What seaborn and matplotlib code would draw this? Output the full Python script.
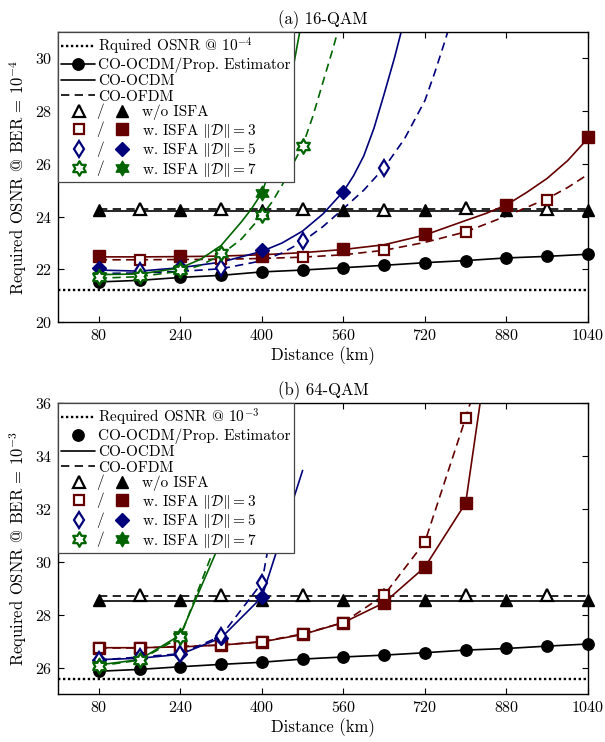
import numpy as np
import matplotlib
matplotlib.use("Agg")
import matplotlib.pyplot as plt
import seaborn as sns
from matplotlib.lines import Line2D
from matplotlib.path import Path
from matplotlib.text import Text
from matplotlib.legend_handler import HandlerBase

# ---------------- data : (a) 16-QAM ----------------
dist = [80, 160, 240, 320, 400, 480, 560, 640, 720, 800, 880, 960, 1040]
x_ticks = [80, 240, 400, 560, 720, 880, 1040]
x_odd = [80, 240, 400, 560, 720, 880, 1040]
x_even = [160, 320, 480, 640, 800, 960]

est16 = [21.52, 21.58, 21.69, 21.77, 21.90, 21.97, 22.06, 22.15, 22.25, 22.33, 22.43, 22.49, 22.57]
req16 = 21.23

tri16_ocdm = [24.24, 24.24, 24.24, 24.23, 24.24, 24.24, 24.24]
tri16_ofdm = [24.30, 24.29, 24.28, 24.24, 24.31, 24.28]
tri16_line_x = [80, 1040]
tri16_ocdm_line = [24.21, 24.21]
tri16_ofdm_line = [24.27, 24.27]

sq16_ocdm = [22.50, 22.50, 22.52, 22.78, 23.32, 24.45, 27.00]
sq16_ofdm = [22.35, 22.38, 22.46, 22.74, 23.43, 24.63]
sq16_sol_x = [80, 160, 240, 320, 400, 480, 560, 640, 720, 800, 840, 880, 920, 960, 1000, 1040]
sq16_sol_y = [22.47, 22.47, 22.48, 22.50, 22.55, 22.63, 22.75, 22.93, 23.30, 23.85, 24.12, 24.44, 24.92, 25.45, 26.12, 26.97]
sq16_das_x = [80, 160, 240, 320, 400, 480, 560, 640, 720, 800, 880, 960, 1000, 1040]
sq16_das_y = [22.36, 22.36, 22.37, 22.38, 22.41, 22.46, 22.55, 22.72, 23.02, 23.42, 24.02, 24.68, 25.10, 25.60]

dia16_ocdm_x = [80, 240, 400, 560]
dia16_ocdm = [22.04, 22.07, 22.72, 24.94]
dia16_ofdm_x = [160, 320, 480, 640]
dia16_ofdm = [21.95, 22.05, 23.09, 25.85]
dia16_sol_x = [80, 160, 240, 320, 400, 440, 480, 520, 560, 580, 600, 620, 640, 660, 680]
dia16_sol_y = [21.97, 21.93, 22.06, 22.27, 22.68, 23.00, 23.45, 24.10, 24.95, 25.55, 26.30, 27.35, 28.65, 30.00, 31.50]
dia16_das_x = [80, 160, 240, 320, 400, 440, 480, 520, 560, 600, 640, 680, 720, 740, 760, 780]
dia16_das_y = [21.84, 21.86, 21.92, 22.02, 22.32, 22.62, 23.05, 23.62, 24.30, 25.00, 25.85, 26.95, 28.40, 29.50, 30.70, 32.00]

star16_ocdm_x = [80, 240, 400]
star16_ocdm = [21.74, 22.00, 24.90]
star16_ofdm_x = [80, 160, 240, 320, 400, 480]
star16_ofdm = [21.71, 21.76, 21.97, 22.60, 24.05, 26.68]
star16_sol_x = [80, 160, 240, 280, 320, 360, 380, 400, 420, 440, 460, 480]
star16_sol_y = [21.80, 21.82, 22.05, 22.38, 22.90, 23.80, 24.30, 24.90, 26.00, 27.60, 29.50, 31.60]
star16_das_x = [80, 160, 240, 280, 320, 360, 400, 420, 440, 460, 480, 500, 520, 540, 560]
star16_das_y = [21.66, 21.72, 21.93, 22.15, 22.55, 23.15, 24.04, 24.55, 25.20, 25.95, 26.68, 27.80, 29.10, 30.40, 31.80]

# ---------------- data : (b) 64-QAM ----------------
est64 = [25.86, 25.93, 26.03, 26.12, 26.20, 26.32, 26.40, 26.47, 26.56, 26.66, 26.72, 26.81, 26.89]
req64 = 25.57

tri64_ocdm = [28.55, 28.55, 28.55, 28.55, 28.55, 28.55, 28.55]
tri64_ofdm = [28.75, 28.75, 28.75, 28.75, 28.75, 28.75]
tri64_ocdm_line = [28.50, 28.50]
tri64_ofdm_line = [28.71, 28.71]

sq64_x = [80, 160, 240, 320, 400, 480, 560, 640, 720, 800, 880]
sq64_ocdm = [26.75, 26.75, 26.78, 26.85, 26.97, 27.25, 27.70, 28.45, 29.80, 32.22, 42.90]
sq64_ofdm = [26.74, 26.74, 26.80, 26.85, 26.98, 27.27, 27.70, 28.74, 30.75, 35.44, 40.40]
sq64_nmark = 10

dia64_x = [80, 160, 240, 320, 400, 480]
dia64_ocdm = [26.30, 26.35, 26.50, 27.12, 28.66, 33.45]
dia64_ofdm = [26.28, 26.40, 26.52, 27.19, 29.20, 37.80]
dia64_nmark = 5

star64_x = [80, 160, 240, 320]
star64_ocdm = [26.10, 26.30, 27.23, 30.80]
star64_ofdm = [26.06, 26.28, 27.15, 31.20]
star64_nmark = 3

# ---------------- style ----------------
MAROON = "#650000"
NAVY = "#00007a"
GREEN = "#006400"
LW = 1.2
DASH = (0, (5, 3.2))
DOT = (0, (1, 1.1))

sns.set_theme(style="ticks")
plt.rcParams.update({
    "font.family": ["cmr10", "DejaVu Serif"],
    "mathtext.fontset": "cm",
    "axes.formatter.use_mathtext": True,
    "axes.unicode_minus": False,
    "font.size": 11.5,
    "axes.edgecolor": "black",
    "axes.linewidth": 1.0,
    "text.color": "black",
    "axes.labelcolor": "black",
    "xtick.color": "black",
    "ytick.color": "black",
    "xtick.direction": "in",
    "ytick.direction": "in",
    "xtick.top": True,
    "ytick.right": True,
    "xtick.major.size": 4.3,
    "ytick.major.size": 4.3,
    "xtick.major.width": 0.8,
    "ytick.major.width": 0.8,
    "xtick.major.pad": 4.5,
    "ytick.major.pad": 4.0,
    "xtick.labelsize": 11.5,
    "ytick.labelsize": 11.5,
})

# hexagram marker shape
_ang = np.deg2rad(90 + 30 * np.arange(12))
_rad = np.where(np.arange(12) % 2 == 0, 1.0, 1 / np.sqrt(3))
_v = np.c_[_rad * np.cos(_ang), _rad * np.sin(_ang)]
HEX = Path(np.vstack([_v, _v[:1]]), [Path.MOVETO] + [Path.LINETO] * 11 + [Path.CLOSEPOLY])

MK = {
    "tri": dict(hollow=("^", 8.4), filled=("^", 8.6)),
    "sq": dict(hollow=("s", 7.0), filled=("s", 9.0)),
    "dia": dict(hollow=("d", 7.8), filled=("D", 7.0)),
    "star": dict(hollow=(HEX, 10.5), filled=(HEX, 10.5)),
}


def line(ax, x, y, color, ls="-"):
    sns.lineplot(x=x, y=y, ax=ax, color=color, linestyle=ls, linewidth=LW,
                 estimator=None, sort=False, legend=False, zorder=2)


def marks(ax, x, y, color, kind, hollow):
    m, ms = MK[kind]["hollow" if hollow else "filled"]
    sns.lineplot(x=x, y=y, ax=ax, color=color, linestyle="", marker=m,
                 markersize=ms, markerfacecolor="white" if hollow else color,
                 markeredgecolor=color, markeredgewidth=1.6 if hollow else 1.0,
                 estimator=None, sort=False, legend=False, zorder=3, clip_on=False)


class Pair:
    def __init__(self, kind, color):
        self.kind = kind
        self.color = color


class PairHandler(HandlerBase):
    def legend_artist(self, legend, orig, fontsize, handlebox):
        xd, yd = handlebox.xdescent, handlebox.ydescent
        w, h = handlebox.width, handlebox.height
        handlebox.width = w + 32.0
        yc = (h - yd) / 2.0
        mh, msh = MK[orig.kind]["hollow"]
        mf, msf = MK[orig.kind]["filled"]
        a1 = Line2D([-xd + 12.5], [yc], ls="", marker=mh, ms=msh, mfc="white",
                    mec=orig.color, mew=1.6)
        t = Text(-xd + 27.5, yc, "/", ha="center", va="center", fontsize=fontsize,
                 family=["cmr10", "DejaVu Serif"])
        a2 = Line2D([-xd + 43.5], [yc], ls="", marker=mf, ms=msf, mfc=orig.color,
                    mec=orig.color, mew=1.0)
        for a in (a1, t, a2):
            handlebox.add_artist(a)
        return a1


def panel(ax, d):
    # lines
    line(ax, dist, d["est"], "black", "-")
    line(ax, d["tri_lx"], d["tri_ocdm_l"], "black", "-")
    line(ax, d["tri_lx"], d["tri_ofdm_l"], "black", DASH)
    for c, sx, sy, dx, dy in d["curves"]:
        line(ax, sx, sy, c, "-")
        line(ax, dx, dy, c, DASH)
    ax.axhline(d["req"], color="black", linestyle=DOT, linewidth=1.7, zorder=2)
    # markers
    sns.lineplot(x=dist, y=d["est"], ax=ax, color="black", linestyle="", marker="o",
                 markersize=8.2, markeredgecolor="black", markeredgewidth=1.0,
                 estimator=None, sort=False, legend=False, zorder=3, clip_on=False)
    marks(ax, x_odd, d["tri_ocdm"], "black", "tri", False)
    marks(ax, x_even, d["tri_ofdm"], "black", "tri", True)
    for c, kind, fx, fy, hx, hy in d["marks"]:
        marks(ax, fx, fy, c, kind, False)
        marks(ax, hx, hy, c, kind, True)

    ax.set_xlim(0, 1040)
    ax.set_ylim(*d["ylim"])
    ax.set_xticks(x_ticks)
    ax.set_yticks(d["yticks"])
    ax.set_xlabel("Distance (km)", fontsize=12, labelpad=2)
    ax.set_ylabel(d["ylabel"], fontsize=12, labelpad=4)
    ax.set_title(d["title"], fontsize=12, pad=6)

    handles = [
        Line2D([], [], color="black", linestyle=DOT, linewidth=1.7),
        Line2D([], [], color="black", marker="o", ms=8.2,
               linestyle="-" if d["est_line"] else "", linewidth=LW),
        Line2D([], [], color="black", linestyle="-", linewidth=LW),
        Line2D([], [], color="black", linestyle=DASH, linewidth=LW),
        Pair("tri", "black"), Pair("sq", MAROON), Pair("dia", NAVY), Pair("star", GREEN),
    ]
    labels = [d["req_label"], "CO-OCDM/Prop. Estimator", "CO-OCDM", "CO-OFDM",
              "w/o ISFA", r"w. ISFA $\|\mathcal{D}\| = 3$",
              r"w. ISFA $\|\mathcal{D}\| = 5$", r"w. ISFA $\|\mathcal{D}\| = 7$"]
    leg = ax.legend(handles, labels, loc="upper left", borderaxespad=0.0,
                    handler_map={Pair: PairHandler()}, fontsize=11,
                    handlelength=2.2, handletextpad=0.2, labelspacing=0.09,
                    borderpad=0.22, fancybox=False, framealpha=1.0,
                    edgecolor="#444444")
    leg.get_frame().set_linewidth(0.9)
    leg.set_zorder(10)


fig = plt.figure(figsize=(6.05, 7.42), dpi=100)
W, H = 605.0, 742.0
ax1 = fig.add_axes([58 / W, 1 - 322 / H, 530 / W, 290 / H])
ax2 = fig.add_axes([58 / W, 1 - 694 / H, 530 / W, 291 / H])

top = dict(
    est=est16, req=req16, tri_lx=tri16_line_x, tri_ocdm_l=tri16_ocdm_line,
    tri_ofdm_l=tri16_ofdm_line, tri_ocdm=tri16_ocdm, tri_ofdm=tri16_ofdm,
    curves=[(MAROON, sq16_sol_x, sq16_sol_y, sq16_das_x, sq16_das_y),
            (NAVY, dia16_sol_x, dia16_sol_y, dia16_das_x, dia16_das_y),
            (GREEN, star16_sol_x, star16_sol_y, star16_das_x, star16_das_y)],
    marks=[(MAROON, "sq", x_odd, sq16_ocdm, x_even, sq16_ofdm),
           (NAVY, "dia", dia16_ocdm_x, dia16_ocdm, dia16_ofdm_x, dia16_ofdm),
           (GREEN, "star", star16_ocdm_x, star16_ocdm, star16_ofdm_x, star16_ofdm)],
    ylim=(20, 31), yticks=[20, 22, 24, 26, 28, 30],
    ylabel=r"Required OSNR @ BER = $10^{-4}$", title="(a) 16-QAM",
    req_label=r"Rquired OSNR @ $10^{-4}$", est_line=True,
)
bot = dict(
    est=est64, req=req64, tri_lx=tri16_line_x, tri_ocdm_l=tri64_ocdm_line,
    tri_ofdm_l=tri64_ofdm_line, tri_ocdm=tri64_ocdm, tri_ofdm=tri64_ofdm,
    curves=[(MAROON, sq64_x, sq64_ocdm, sq64_x, sq64_ofdm),
            (NAVY, dia64_x, dia64_ocdm, dia64_x, dia64_ofdm),
            (GREEN, star64_x, star64_ocdm, star64_x, star64_ofdm)],
    marks=[(MAROON, "sq", sq64_x[:sq64_nmark], sq64_ocdm[:sq64_nmark],
            sq64_x[:sq64_nmark], sq64_ofdm[:sq64_nmark]),
           (NAVY, "dia", dia64_x[:dia64_nmark], dia64_ocdm[:dia64_nmark],
            dia64_x[:dia64_nmark], dia64_ofdm[:dia64_nmark]),
           (GREEN, "star", star64_x[:star64_nmark], star64_ocdm[:star64_nmark],
            star64_x[:star64_nmark], star64_ofdm[:star64_nmark])],
    ylim=(25, 36), yticks=[26, 28, 30, 32, 34, 36],
    ylabel=r"Required OSNR @ BER = $10^{-3}$", title="(b) 64-QAM",
    req_label=r"Required OSNR @ $10^{-3}$", est_line=False,
)
panel(ax1, top)
panel(ax2, bot)

fig.savefig("out.png", dpi=100)
